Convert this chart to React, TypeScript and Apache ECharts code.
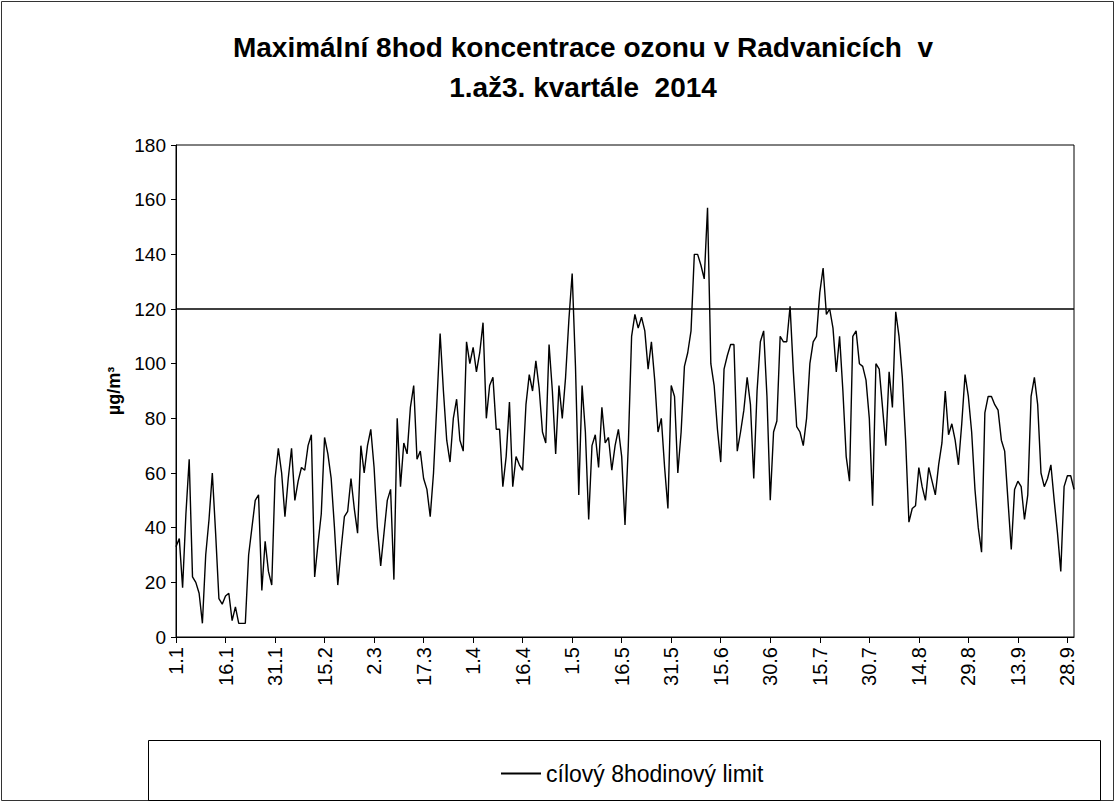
import React, { useEffect, useRef } from "react";
import * as echarts from "echarts";

const TITLE_LINE1 = "Maximální 8hod koncentrace ozonu v Radvanicích  v";
const TITLE_LINE2 = "1.až3. kvartále  2014";
const Y_NAME = "µg/m³";
const SERIES_NAME = "Max. 8hod koncentrace";
const LIMIT_NAME = "cílový 8hodinový limit";
const LIMIT_VALUE = 120;
const YEAR = 2014;
const DAY_COUNT = 273; // 1.1. – 30.9.
const LABEL_STEP = 15;

// daily maximum 8-hour ozone concentration (µg/m³)
const ozone: number[] = [
  33, 36, 18, 45, 65, 22, 20, 16, 5, 30,
  43, 60, 38, 14, 12, 15, 16, 6, 11, 5,
  5, 5, 30, 40, 50, 52, 17, 35, 24, 19,
  58, 69, 60, 44, 58, 69, 50, 57, 62, 61,
  70, 74, 22, 34, 45, 73, 67, 58, 40, 19,
  32, 44, 46, 58, 47, 38, 70, 60, 70, 76,
  62, 40, 26, 38, 50, 54, 21, 80, 55, 71,
  67, 84, 92, 65, 68, 58, 54, 44, 60, 85,
  111, 90, 72, 64, 80, 87, 72, 68, 108, 100,
  106, 97, 104, 115, 80, 92, 95, 76, 76, 55,
  66, 86, 55, 66, 63, 61, 85, 96, 90, 101,
  91, 75, 71, 107, 90, 67, 92, 80, 95, 116,
  133, 99, 52, 92, 75, 43, 70, 74, 62, 84,
  71, 73, 61, 70, 76, 66, 41, 70, 110, 118,
  113, 117, 112, 98, 108, 94, 75, 80, 62, 47,
  92, 88, 60, 75, 99, 104, 112, 140, 140, 136,
  131, 157, 100, 92, 76, 64, 98, 103, 107, 107,
  68, 75, 83, 95, 85, 58, 90, 108, 112, 88,
  50, 75, 79, 110, 108, 108, 121, 97, 77, 75,
  70, 80, 100, 108, 110, 126, 135, 118, 120, 113,
  97, 110, 90, 66, 57, 110, 112, 100, 99, 94,
  80, 48, 100, 98, 84, 70, 97, 84, 119, 110,
  95, 72, 42, 47, 48, 62, 55, 50, 62, 57,
  52, 63, 71, 90, 74, 78, 72, 63, 78, 96,
  88, 75, 54, 40, 31, 82, 88, 88, 85, 83,
  72, 68, 50, 32, 54, 57, 55, 43, 52, 88,
  95, 85, 60, 55, 58, 63, 50, 38, 24, 55,
  59, 59, 54,
];

function buildDates(): string[] {
  const out: string[] = [];
  for (let i = 0; i < DAY_COUNT; i++) {
    const d = new Date(Date.UTC(YEAR, 0, 1 + i));
    out.push(`${d.getUTCDate()}.${d.getUTCMonth() + 1}`);
  }
  return out;
}

const dates = buildDates();
const limitLine = dates.map(() => LIMIT_VALUE);

const FONT = "'Liberation Sans', Arial, sans-serif";

export default function App() {
  const ref = useRef<HTMLDivElement>(null);

  useEffect(() => {
    if (!ref.current) return;
    const chart = echarts.init(ref.current, undefined, { renderer: "svg" });
    chart.setOption({
      animation: false,
      backgroundColor: "#ffffff",
      textStyle: { fontFamily: FONT, color: "#000" },
      title: {
        text: TITLE_LINE1 + "\n" + TITLE_LINE2,
        left: 578,
        top: 22,
        textAlign: "center",
        textStyle: {
          fontFamily: FONT,
          fontSize: 28,
          fontWeight: "bold",
          color: "#000",
          lineHeight: 40,
        },
      },
      legend: {
        data: [LIMIT_NAME],
        left: 496,
        top: 757,
        icon: "rect",
        itemWidth: 40,
        itemHeight: 2,
        itemGap: 6,
        textStyle: { fontFamily: FONT, fontSize: 23, color: "#000" },
      },
      grid: {
        left: 176,
        top: 145,
        width: 898,
        height: 492,
        show: true,
        borderColor: "#000",
        borderWidth: 1,
        backgroundColor: "#fff",
      },
      xAxis: {
        type: "category",
        data: dates,
        boundaryGap: false,
        axisLine: { lineStyle: { color: "#000", width: 1 } },
        axisTick: {
          show: true,
          interval: LABEL_STEP - 1,
          length: 6,
          lineStyle: { color: "#000" },
        },
        axisLabel: {
          interval: LABEL_STEP - 1,
          rotate: 90,
          margin: 10,
          fontFamily: FONT,
          fontSize: 20,
          color: "#000",
        },
        splitLine: { show: false },
      },
      yAxis: {
        type: "value",
        min: 0,
        max: 180,
        interval: 20,
        name: Y_NAME,
        nameLocation: "middle",
        nameRotate: 90,
        nameGap: 42,
        nameTextStyle: { fontFamily: FONT, fontSize: 18, fontWeight: "bold", color: "#000" },
        axisLine: { show: true, lineStyle: { color: "#000", width: 1 } },
        axisTick: { show: true, length: 5, lineStyle: { color: "#000" } },
        axisLabel: { fontFamily: FONT, fontSize: 19, color: "#000", margin: 10 },
        splitLine: { show: false },
      },
      graphic: [
        {
          type: "rect",
          shape: { x: 1.5, y: 1.5, width: 1112, height: 799 },
          style: { fill: "none", stroke: "#333", lineWidth: 1 },
          silent: true,
          z: 0,
        },
        {
          type: "rect",
          shape: { x: 148.5, y: 740.5, width: 952, height: 60 },
          style: { fill: "none", stroke: "#000", lineWidth: 1 },
          silent: true,
          z: 1,
        },
      ],
      series: [
        {
          name: SERIES_NAME,
          type: "line",
          data: ozone,
          showSymbol: false,
          symbol: "none",
          lineStyle: { color: "#000", width: 1.4 },
          itemStyle: { color: "#000" },
          z: 3,
        },
        {
          name: LIMIT_NAME,
          type: "line",
          data: limitLine,
          showSymbol: false,
          symbol: "none",
          lineStyle: { color: "#000", width: 1.5 },
          itemStyle: { color: "#000" },
          z: 2,
        },
      ],
    });
    return () => chart.dispose();
  }, []);

  return (
    <div
      ref={ref}
      style={{ position: "absolute", left: 0, top: 0, width: 1117, height: 803 }}
    />
  );
}
